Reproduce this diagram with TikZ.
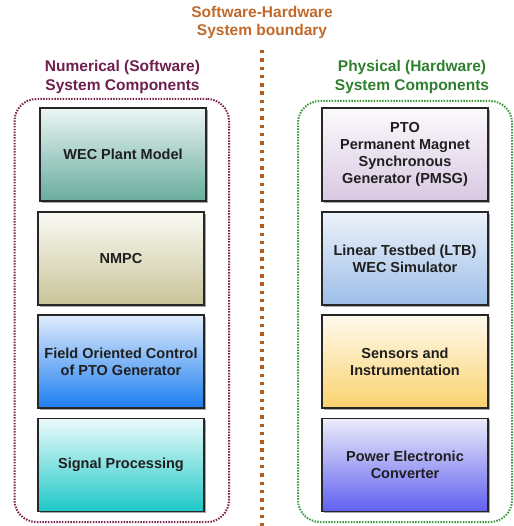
\documentclass[tikz,border=0pt]{standalone}
\usepackage{fontspec}
\setmainfont{Liberation Sans}
\usetikzlibrary{shadows}

\definecolor{boundcol}{HTML}{C0692A}
\definecolor{boundline}{HTML}{B35E1C}
\definecolor{swcol}{HTML}{6E1F4E}
\definecolor{swdots}{HTML}{7A2450}
\definecolor{hwcol}{HTML}{2E7F2E}
\definecolor{hwdots}{HTML}{3C9A3C}

\tikzset{
  heading/.style={font=\bfseries\fontsize{15.5}{18.8}\selectfont, align=center, inner sep=0pt},
  block/.style={draw=black!85, line width=1.6pt, rectangle, minimum width=166pt,
    minimum height=93pt, inner sep=0pt, align=center,
    font=\bfseries\fontsize{14.5}{17}\selectfont, text=black!88,
    drop shadow={shadow xshift=1.6pt, shadow yshift=-1.6pt, opacity=0.35, fill=black}},
  group/.style={rectangle, rounded corners=22pt, line width=2pt,
    dash pattern=on 1.5pt off 1.3pt, minimum width=#1, inner sep=0pt},
}

\begin{document}
\begin{tikzpicture}[x=1pt, y=-1pt]
  \useasboundingbox (0,0) rectangle (513,526);

  % headings
  \node[heading, text=boundcol] (bound) at (262,22.5) {Software-Hardware\\System boundary};
  \node[heading, text=swcol] (swtitle) at (122.5,77) {Numerical (Software)\\System Components};
  \node[heading, text=hwcol] (hwtitle) at (412,77) {Physical (Hardware)\\System Components};

  % software-hardware boundary line
  \coordinate (btop) at (262,50);
  \coordinate (bbot) at (262,526);
  \draw[boundline, line width=3.4pt, dash pattern=on 3.4pt off 4.9pt] (btop) -- (bbot);

  % component groups
  \node[group=214.5pt, draw=swdots, minimum height=423pt] (swgroup) at (121.75,310.5) {};
  \node[group=214pt, draw=hwdots, minimum height=421pt] (hwgroup) at (405,311.5) {};

  % software components
  \node[block, top color=teal!8, bottom color={rgb,255:red,104;green,172;blue,156}] (plant) at (123,154.5) {WEC Plant Model};
  \node[block, top color={rgb,255:red,250;green,250;blue,244}, bottom color={rgb,255:red,200;green,196;blue,152}] (nmpc) at (121,258.5) {NMPC};
  \node[block, top color={rgb,255:red,224;green,236;blue,252}, bottom color={rgb,255:red,28;green,126;blue,240}] (foc) at (121,361.5) {Field Oriented Control\\of PTO Generator};
  \node[block, top color={rgb,255:red,236;green,250;blue,250}, bottom color={rgb,255:red,30;green,200;blue,200}] (sig) at (121,465) {Signal Processing};

  % hardware components
  \node[block, top color={rgb,255:red,252;green,250;blue,252}, bottom color={rgb,255:red,216;green,200;blue,226}] (pmsg) at (405,154.5) {PTO\\Permanent Magnet\\Synchronous\\Generator (PMSG)};
  \node[block, top color={rgb,255:red,236;green,242;blue,250}, bottom color={rgb,255:red,158;green,190;blue,232}] (ltb) at (405,258.5) {Linear Testbed (LTB)\\WEC Simulator};
  \node[block, top color={rgb,255:red,255;green,250;blue,238}, bottom color={rgb,255:red,250;green,210;blue,110}] (sens) at (405,361.5) {Sensors and\\Instrumentation};
  \node[block, top color={rgb,255:red,236;green,236;blue,250}, bottom color={rgb,255:red,96;green,96;blue,240}] (pec) at (405,465) {Power Electronic\\Converter};
\end{tikzpicture}
\end{document}
